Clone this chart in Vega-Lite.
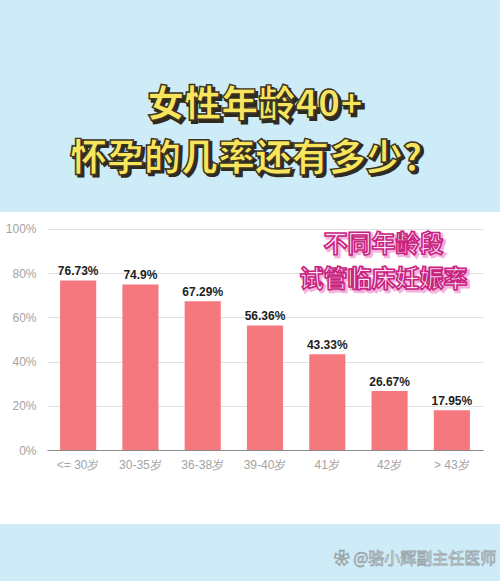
{
  "$schema": "https://vega.github.io/schema/vega-lite/v6.json",
  "background": "#ceebf8",
  "padding": 0,
  "spacing": 0,
  "bounds": "flush",
  "datasets": {
    "title": [
      {"text": "女性年龄40+", "row": 1},
      {"text": "怀孕的几率还有多少？", "row": 2}
    ],
    "rates": [
      {"age": "<= 30岁", "rate": 76.73, "label": "76.73%"},
      {"age": "30-35岁", "rate": 74.9, "label": "74.9%"},
      {"age": "36-38岁", "rate": 67.29, "label": "67.29%"},
      {"age": "39-40岁", "rate": 56.36, "label": "56.36%"},
      {"age": "41岁", "rate": 43.33, "label": "43.33%"},
      {"age": "42岁", "rate": 26.67, "label": "26.67%"},
      {"age": "> 43岁", "rate": 17.95, "label": "17.95%"}
    ],
    "note": [
      {"text": "不同年龄段", "age": "42岁", "level": 92.8},
      {"text": "试管临床妊娠率", "age": "42岁", "level": 77}
    ],
    "credit": [
      {"text": "❀ @骆小辉副主任医师"}
    ]
  },
  "vconcat": [
    {
      "width": 500,
      "height": 212,
      "view": {"fill": "#ceebf8", "stroke": null},
      "data": {"name": "title"},
      "encoding": {
        "x": {"datum": 0.02, "type": "quantitative", "scale": {"domain": [-1, 1]}, "axis": null},
        "y": {"field": "row", "type": "quantitative", "scale": {"domain": [-0.963, 2.963], "reverse": true, "nice": false, "zero": false}, "axis": null},
        "text": {"field": "text"}
      },
      "layer": [
        {"mark": {"type": "text", "font": "Noto Sans CJK SC", "fontWeight": 900, "fontSize": 37, "fill": "#2e2a1e", "stroke": "#2e2a1e", "strokeWidth": 1.8, "dx": 2.5, "dy": 2.5, "baseline": "middle", "align": "center"}},
        {"mark": {"type": "text", "font": "Noto Sans CJK SC", "fontWeight": 900, "fontSize": 37, "fill": "#f8e55c", "stroke": "#3a3422", "strokeWidth": 1.4, "baseline": "middle", "align": "center"}}
      ]
    },
    {
      "width": 500,
      "height": 312,
      "view": {"fill": "white", "stroke": null},
      "layer": [
        {
          "data": {"name": "rates"},
          "mark": {"type": "bar", "color": "#f6787f"},
          "encoding": {
            "x": {"field": "age", "type": "nominal", "sort": null,
              "scale": {"range": [47, 483], "paddingInner": 0.42, "paddingOuter": 0.21},
              "axis": {"title": null, "orient": "bottom", "offset": -74, "labelAngle": 0, "ticks": false, "labelPadding": 9, "labelColor": "#a3a3a3", "labelFontSize": 12, "labelFont": "Liberation Sans", "domainColor": "#8a8a8a", "domainWidth": 1.2, "grid": false}},
            "y": {"field": "rate", "type": "quantitative",
              "scale": {"domain": [-33.48, 107.69], "nice": false, "zero": false},
              "axis": {"title": null, "orient": "left", "offset": -47, "values": [0, 20, 40, 60, 80, 100], "labelExpr": "datum.value + '%'", "ticks": false, "domain": false, "labelPadding": 11, "labelColor": "#a3a3a3", "labelFontSize": 12, "labelFont": "Liberation Sans", "gridColor": "#e2e2e2", "gridWidth": 1.2}}
          }
        },
        {
          "data": {"name": "rates"},
          "mark": {"type": "text", "baseline": "bottom", "dy": -2, "font": "Liberation Sans", "fontWeight": "bold", "fontSize": 12, "color": "#1e1e1e"},
          "encoding": {
            "x": {"field": "age", "type": "nominal", "sort": null},
            "y": {"field": "rate", "type": "quantitative"},
            "text": {"field": "label"}
          }
        },
        {
          "data": {"name": "note"},
          "mark": {"type": "text", "font": "Noto Sans CJK SC", "fontWeight": "bold", "fontSize": 24, "fill": "#f4b3dd", "stroke": "#f4b3dd", "strokeWidth": 3, "dx": -4, "dy": 2, "baseline": "middle", "align": "center"},
          "encoding": {
            "x": {"field": "age", "type": "nominal", "sort": null},
            "y": {"field": "level", "type": "quantitative"},
            "text": {"field": "text"}
          }
        },
        {
          "data": {"name": "note"},
          "mark": {"type": "text", "font": "Noto Sans CJK SC", "fontWeight": "bold", "fontSize": 24, "fill": "#fbe4f6", "stroke": "#c8237f", "strokeWidth": 1.6, "dx": -6, "baseline": "middle", "align": "center"},
          "encoding": {
            "x": {"field": "age", "type": "nominal", "sort": null},
            "y": {"field": "level", "type": "quantitative"},
            "text": {"field": "text"}
          }
        }
      ]
    },
    {
      "width": 500,
      "height": 57,
      "view": {"fill": "#ceebf8", "stroke": null},
      "data": {"name": "credit"},
      "mark": {"type": "text", "font": "Noto Sans CJK SC", "fontSize": 16, "fill": "#f5f8fa", "stroke": "#98a4aa", "strokeWidth": 0.8, "baseline": "middle", "align": "center"},
      "encoding": {
        "x": {"datum": 0.83, "type": "quantitative", "scale": {"domain": [0, 1], "nice": false}, "axis": null},
        "y": {"datum": 0.39, "type": "quantitative", "scale": {"domain": [0, 1], "nice": false}, "axis": null},
        "text": {"field": "text"}
      }
    }
  ],
  "config": {
    "view": {"stroke": null},
    "axis": {"labelFont": "Liberation Sans"}
  }
}
